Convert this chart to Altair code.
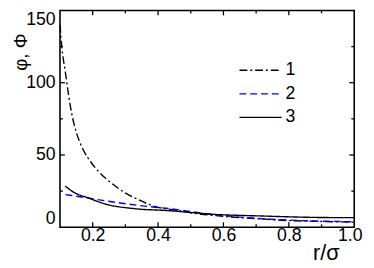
import altair as alt
import pandas as pd

# ---- data ----
series_names = ["1", "2", "3"]

x1 = [0.100, 0.106, 0.116, 0.126, 0.136, 0.151, 0.171, 0.196, 0.221, 0.261, 0.296, 0.334, 0.392, 0.450, 0.500, 0.600, 0.700, 0.800, 0.900, 1.000]
y1 = [140.0, 124.0, 108.0, 92.0, 78.5, 65.0, 53.6, 44.6, 37.8, 29.9, 24.2, 19.7, 14.2, 12.0, 10.0, 7.5, 6.0, 4.6, 4.0, 3.5]

x2 = [0.117, 0.185, 0.284, 0.384, 0.434, 0.500, 0.578, 0.650, 0.750, 0.827, 0.900, 1.000]
y2 = [22.6, 20.2, 16.8, 14.0, 12.9, 10.8, 8.6, 7.0, 5.5, 4.7, 4.2, 3.8]

x3 = [0.116, 0.140, 0.190, 0.235, 0.330, 0.430, 0.500, 0.578, 0.650, 0.728, 0.800, 0.877, 1.000]
y3 = [28.5, 24.5, 20.0, 16.3, 12.8, 11.5, 10.2, 8.8, 8.2, 7.7, 7.2, 6.8, 6.6]

x_labels = [0.2, 0.4, 0.6, 0.8, 1.0]
x_major = [0.2, 0.4, 0.6, 0.8]
x_minor = [0.3, 0.5, 0.7, 0.9]
y_labels = [0, 50, 100, 150]
y_major = [50, 100]
y_minor = [25, 75, 125]

colors = ["#000000", "#0000FF", "#000000"]
dashes = [[8, 3, 2, 3], [7, 4], [1, 0]]

# ---- build table ----
rows = []
for name, xs, ys in zip(series_names, [x1, x2, x3], [y1, y2, y3]):
    for xv, yv in zip(xs, ys):
        rows.append({"r": xv, "v": yv, "s": name})
df = pd.DataFrame(rows)

W, H = 300, 221
FONT = "Liberation Sans"

x_scale = alt.Scale(domain=[0.1, 1.0], nice=False, zero=False)
y_scale = alt.Scale(domain=[0, 150], nice=False, zero=False)

x_axis = alt.Axis(
    values=x_labels, format=".1f", title="r/σ", grid=False, domain=False, ticks=False,
    labelFontSize=18, labelFont=FONT, labelColor="black", labelPadding=0,
    labelFlush=True, labelFlushOffset=8,
    titleFontSize=22, titleFont=FONT, titleFontWeight="normal", titleColor="black",
    titleX=271, titleY=33, titleAlign="center", titleBaseline="alphabetic",
)
y_axis = alt.Axis(
    values=y_labels, title="φ, Φ", grid=False, domain=False, ticks=False,
    labelFontSize=18, labelFont=FONT, labelColor="black", labelPadding=5,
    labelFlush=True,
    titleFontSize=19, titleFont=FONT, titleFontWeight="normal", titleColor="black",
    titleX=-40, titleY=42, titleAngle=-90, titleAlign="center", titleBaseline="middle",
)

leg = alt.Legend(
    orient="none", legendX=182, legendY=52, title=None,
    symbolType="stroke", symbolSize=1849, symbolStrokeWidth=1.4,
    labelFontSize=18, labelFont=FONT, labelColor="black",
    labelOffset=3, rowPadding=6, padding=0, clipHeight=18,
)

lines = alt.Chart(df).mark_line(strokeWidth=1.4, interpolate="monotone").encode(
    x=alt.X("r:Q", scale=x_scale, axis=x_axis),
    y=alt.Y("v:Q", scale=y_scale, axis=y_axis),
    color=alt.Color("s:N", scale=alt.Scale(domain=series_names, range=colors), legend=leg),
    strokeDash=alt.StrokeDash("s:N", scale=alt.Scale(domain=series_names, range=dashes), legend=leg),
)


def xticks(vals, length):
    d = pd.DataFrame({"r": vals})
    base = alt.Chart(d).mark_rule(color="black", strokeWidth=1.3)
    bot = base.encode(x=alt.X("r:Q", scale=x_scale, axis=x_axis), y=alt.value(H), y2=alt.value(H - length))
    top = base.encode(x=alt.X("r:Q", scale=x_scale, axis=x_axis), y=alt.value(0), y2=alt.value(length))
    return [bot, top]


def yticks(vals, length):
    d = pd.DataFrame({"v": vals})
    base = alt.Chart(d).mark_rule(color="black", strokeWidth=1.3)
    left = base.encode(y=alt.Y("v:Q", scale=y_scale, axis=y_axis), x=alt.value(0), x2=alt.value(length))
    right = base.encode(y=alt.Y("v:Q", scale=y_scale, axis=y_axis), x=alt.value(W), x2=alt.value(W - length))
    return [left, right]


layers = [lines] + xticks(x_major, 5) + xticks(x_minor, 3) + yticks(y_major, 5) + yticks(y_minor, 3)

chart = alt.layer(*layers).properties(
    width=W, height=H,
    background="white",
    autosize=alt.AutoSizeParams(type="none"),
    padding={"left": 53, "top": 0, "right": 12, "bottom": 36},
).configure_view(stroke="black", strokeWidth=1.6)

chart.save("out.html", embed_options={"renderer": "svg", "actions": False})
